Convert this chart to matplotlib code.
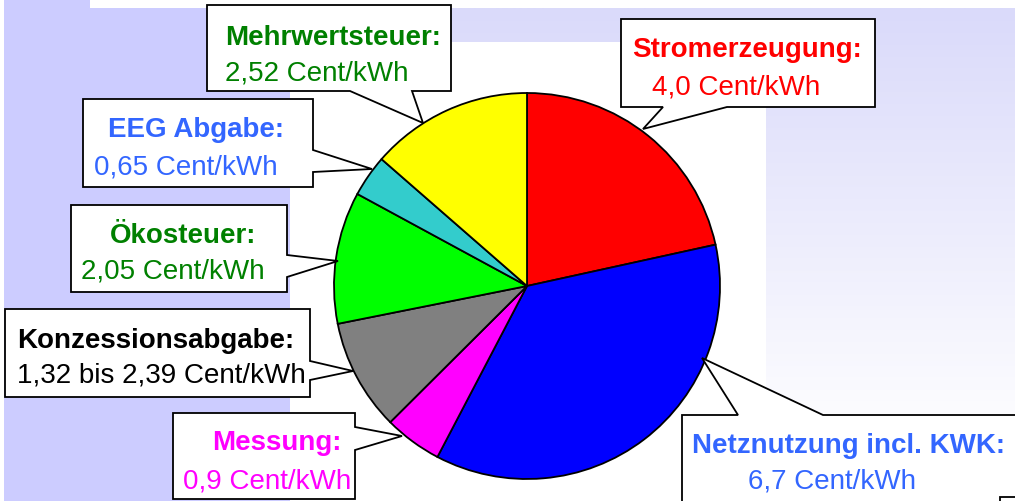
import numpy as np
import matplotlib
matplotlib.use("Agg")
import matplotlib.pyplot as plt
from matplotlib.patches import Polygon, Rectangle

plt.rcParams['font.family'] = ['Liberation Sans', 'DejaVu Sans']

W, H = 1015, 501

# Strompreis-Bestandteile (Cent/kWh), im Uhrzeigersinn ab 12 Uhr
labels = ["Stromerzeugung:", "Netznutzung incl. KWK:", "Messung:",
          "Konzessionsabgabe:", "Ökosteuer:", "EEG Abgabe:", "Mehrwertsteuer:"]
value_texts = ["4,0 Cent/kWh", "6,7 Cent/kWh", "0,9 Cent/kWh",
               "1,32 bis 2,39 Cent/kWh", "2,05 Cent/kWh", "0,65 Cent/kWh",
               "2,52 Cent/kWh"]
values = [4.0, 6.7, 0.9, 1.73, 2.05, 0.65, 2.52]
slice_colors = ["#ff0000", "#0000ff", "#ff00ff", "#808080",
                "#00ff00", "#33cccc", "#ffff00"]
text_colors = ["#ff0000", "#3366ff", "#ff00ff", "#000000",
               "#008000", "#3366ff", "#008000"]

# callout layout in pixel coords (y down): box, pointer side, pointer base, tip,
# label left/baseline, value left/baseline
callouts = [
    ((621, 19, 875, 107), "bottom", (663, 727), (643, 129), (632, 57), (652, 94)),
    ((682, 415, 1040, 530), "top", (738, 823), (702, 358), (692, 453), (748, 489)),
    ((173, 413, 355, 499), "right", (427, 450), (402, 436), (212, 450), (183, 488)),
    ((5, 309, 310, 397), "right", (361, 380), (353, 371), (17, 348), (17, 383)),
    ((71, 205, 287, 292), "right", (255, 277), (338, 261), (110, 243), (81, 279)),
    ((83, 99, 313, 187), "right", (150, 172), (372, 169), (108, 137), (94, 174)),
    ((207, 5, 451, 91), "bottom", (350, 412), (423, 123), (225, 45), (225, 80)),
]


def bubble(box, side, base, tip):
    x0, y0, x1, y1 = box
    a, b = base
    if side == "bottom":
        pts = [(x0, y0), (x1, y0), (x1, y1), (b, y1), tip, (a, y1), (x0, y1)]
    elif side == "top":
        pts = [(x0, y0), (a, y0), tip, (b, y0), (x1, y0), (x1, y1), (x0, y1)]
    else:
        pts = [(x0, y0), (x1, y0), (x1, a), tip, (x1, b), (x1, y1), (x0, y1)]
    return Polygon(pts, closed=True, facecolor="white", edgecolor="black",
                   linewidth=1.3, zorder=5)


fig = plt.figure(figsize=(W / 100, H / 100), dpi=100, facecolor="white")
ax = fig.add_axes([0, 0, 1, 1])

# background
ax.add_patch(Rectangle((4, 0), 286, H, facecolor="#ccccff", edgecolor="none", zorder=0))
grad = np.linspace(0, 1, 200)[:, None]
c_top = np.array([218, 218, 250]) / 255
rgb = c_top[None, None, :] * (1 - grad[..., None]) + grad[..., None]
rgb = np.clip(rgb, 0, 1)
ax.imshow(rgb, extent=(290, W, 450, 8), aspect="auto", zorder=0)
ax.add_patch(Rectangle((290, 42), 476, H, facecolor="white", edgecolor="none", zorder=0.5))
ax.add_patch(Rectangle((90, 0), 920, 8, facecolor="white", edgecolor="none", zorder=0.5))

# pie (y axis is inverted, so counterclock=True draws clockwise on screen)
ax.pie(values, colors=slice_colors, startangle=-90, counterclock=True,
       center=(527, 286), radius=193,
       wedgeprops=dict(edgecolor="black", linewidth=1.3), frame=True)
for p in ax.patches[-len(values):]:
    p.set_zorder(3)

for i, (box, side, base, tip, lpos, vpos) in enumerate(callouts):
    ax.add_patch(bubble(box, side, base, tip))
    ax.text(lpos[0], lpos[1], labels[i], color=text_colors[i], fontsize=20,
            fontweight="bold", ha="left", va="baseline", zorder=6)
    ax.text(vpos[0], vpos[1], value_texts[i], color=text_colors[i], fontsize=20,
            ha="left", va="baseline", zorder=6)

ax.add_patch(Rectangle((1000, 497), 40, 20, facecolor="white", edgecolor="black",
                       linewidth=1.3, zorder=5))

ax.set_xlim(0, W)
ax.set_ylim(H, 0)
ax.set_aspect("auto")
ax.axis("off")

fig.savefig("out.png", dpi=100, facecolor="white")
